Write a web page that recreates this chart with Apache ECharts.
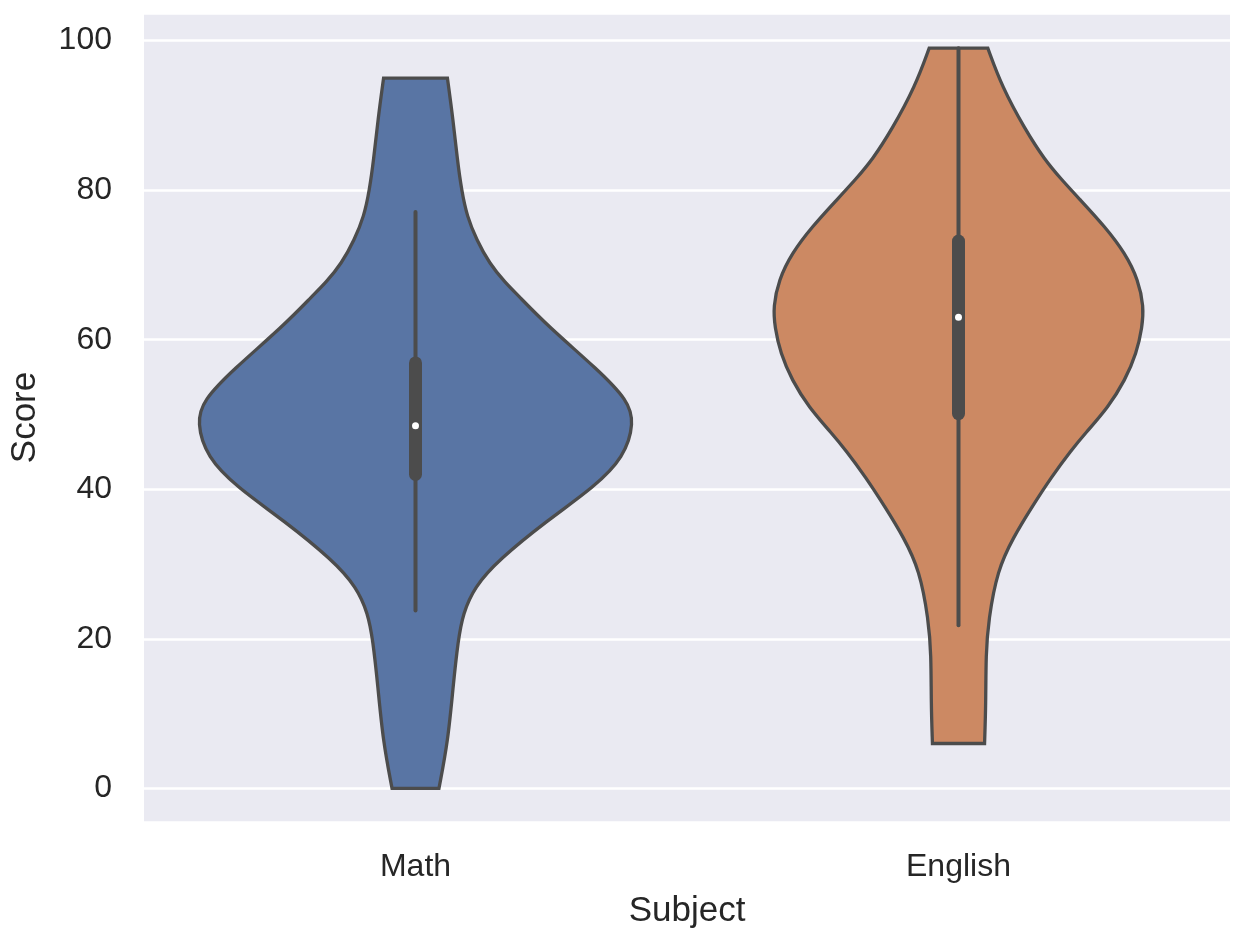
<!DOCTYPE html>
<html>
<head>
<meta charset="utf-8">
<title>Score by Subject</title>
<script src="https://cdn.jsdelivr.net/npm/echarts@6/dist/echarts.min.js"></script>
<style>
  html, body { margin: 0; padding: 0; background: #fff; }
  #chart { width: 1242px; height: 945px; }
</style>
</head>
<body>
<div id="chart"></div>
<script>
// subjects on the x axis
var subjects = ['Math', 'English'];

// violin outline: score levels and relative half-width (1 = 0.4 of a category band)
var mathLevels = [0, 6.4, 13.6, 19.8, 23.4, 26.9, 30.5, 35.9, 40.3, 44.3, 48.9, 51.9, 56, 61.8, 66, 67.6, 70.2, 73.4, 76.5, 80, 84, 89.4, 95];
var mathWidths = [0.108, 0.150, 0.173, 0.196, 0.219, 0.271, 0.380, 0.610, 0.823, 0.961, 1.007, 0.978, 0.840, 0.610, 0.470, 0.414, 0.340, 0.281, 0.237, 0.212, 0.193, 0.173, 0.147];

var englishLevels = [6, 11.3, 18, 22.5, 29.2, 33.6, 37.6, 41.7, 45.2, 47.5, 51, 54.6, 58.2, 61.7, 64.4, 68, 71.6, 75.1, 78.7, 81.4, 84.1, 88.1, 93.9, 99];
var englishWidths = [0.120, 0.126, 0.126, 0.138, 0.179, 0.253, 0.337, 0.429, 0.518, 0.584, 0.690, 0.767, 0.820, 0.846, 0.853, 0.828, 0.767, 0.675, 0.561, 0.475, 0.396, 0.307, 0.199, 0.135];

// inner box: whisker low, q1, median, q3, whisker high
var mathBox = [23.8, 41.6, 48.5, 57.3, 77.1];
var englishBox = [21.8, 49.7, 63, 73.6, 99];

var yTicks = [0, 20, 40, 60, 80, 100];

var violins = [
  { levels: mathLevels, widths: mathWidths, box: mathBox, color: '#5975A4' },
  { levels: englishLevels, widths: englishWidths, box: englishBox, color: '#CC8963' }
];

var edge = '#4C4C4C';

// cubic b-spline through the outline points, clamped at both ends
function curve(pts) {
  var n = pts.length;
  var b = [pts[0], pts[0]].concat(pts, [pts[n - 1], pts[n - 1]]);
  var s = '';
  for (var k = 1; k < b.length - 2; k++) {
    var p1 = b[k], p2 = b[k + 1], p3 = b[k + 2];
    var c1x = (2 * p1[0] + p2[0]) / 3, c1y = (2 * p1[1] + p2[1]) / 3;
    var c2x = (p1[0] + 2 * p2[0]) / 3, c2y = (p1[1] + 2 * p2[1]) / 3;
    var ex = (p1[0] + 4 * p2[0] + p3[0]) / 6, ey = (p1[1] + 4 * p2[1] + p3[1]) / 6;
    s += ' C' + c1x + ',' + c1y + ' ' + c2x + ',' + c2y + ' ' + ex + ',' + ey;
  }
  return s;
}

function renderViolin(params, api) {
  var i = api.value(0);
  var v = violins[i];
  var unit = api.size([1, 0])[0] * 0.4;
  var left = [], right = [];
  for (var k = 0; k < v.levels.length; k++) {
    var c = api.coord([i, v.levels[k]]);
    left.push([c[0] - v.widths[k] * unit, c[1]]);
    right.push([c[0] + v.widths[k] * unit, c[1]]);
  }
  var rightDown = right.slice().reverse();
  var d = 'M' + left[0][0] + ',' + left[0][1] + curve(left) +
    ' L' + rightDown[0][0] + ',' + rightDown[0][1] + curve(rightDown) + ' Z';

  var lo = api.coord([i, v.box[0]]);
  var q1 = api.coord([i, v.box[1]]);
  var md = api.coord([i, v.box[2]]);
  var q3 = api.coord([i, v.box[3]]);
  var hi = api.coord([i, v.box[4]]);

  return {
    type: 'group',
    children: [
      {
        type: 'path',
        shape: { pathData: d },
        style: { fill: v.color, stroke: edge, lineWidth: 3.3, lineJoin: 'miter' }
      },
      {
        type: 'line',
        shape: { x1: lo[0], y1: lo[1], x2: hi[0], y2: hi[1] },
        style: { stroke: edge, lineWidth: 4, lineCap: 'round' }
      },
      {
        type: 'line',
        shape: { x1: q1[0], y1: q1[1] - 3, x2: q3[0], y2: q3[1] + 3 },
        style: { stroke: edge, lineWidth: 13, lineCap: 'round' }
      },
      {
        type: 'circle',
        shape: { cx: md[0], cy: md[1], r: 3.5 },
        style: { fill: '#ffffff' }
      }
    ]
  };
}

var chart = echarts.init(document.getElementById('chart'), null, { renderer: 'canvas' });

chart.setOption({
  backgroundColor: '#ffffff',
  animation: false,
  textStyle: { fontFamily: 'Liberation Sans, Arial, sans-serif' },
  grid: {
    left: 143, right: 12, top: 13, bottom: 123,
    show: true, backgroundColor: '#EAEAF2', borderWidth: 0
  },
  xAxis: {
    type: 'category',
    data: subjects,
    boundaryGap: true,
    axisLine: { show: false },
    axisTick: { show: false },
    splitLine: { show: false },
    axisLabel: { fontSize: 32, color: '#262626', margin: 29 },
    name: 'Subject',
    nameLocation: 'middle',
    nameGap: 72,
    nameTextStyle: { fontSize: 35, color: '#262626' }
  },
  yAxis: {
    type: 'value',
    min: -4.5,
    max: 103.7,
    splitNumber: 5,
    axisLine: { show: false },
    axisTick: { show: false },
    splitLine: { show: true, lineStyle: { color: '#ffffff', width: 2.5 } },
    axisLabel: {
      fontSize: 32, color: '#262626', margin: 32,
      formatter: function (val) {
        return yTicks.indexOf(Math.round(val * 1000) / 1000) >= 0 ? String(val) : '';
      }
    },
    name: 'Score',
    nameLocation: 'middle',
    nameGap: 101,
    nameTextStyle: { fontSize: 35, color: '#262626' }
  },
  series: [{
    type: 'custom',
    renderItem: renderViolin,
    encode: { x: 0, y: 1 },
    data: subjects.map(function (s, i) { return [i, violins[i].box[2]]; }),
    z: 3
  }]
});
</script>
</body>
</html>
